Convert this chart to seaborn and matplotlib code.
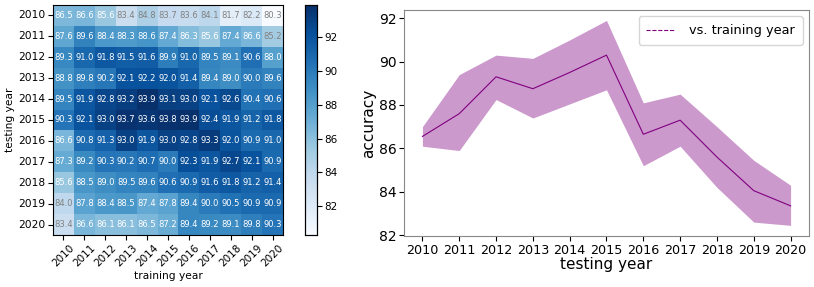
import numpy as np
import pandas as pd
import matplotlib
matplotlib.use("Agg")
import matplotlib.pyplot as plt
import seaborn as sns

years = [2010, 2011, 2012, 2013, 2014, 2015, 2016, 2017, 2018, 2019, 2020]

# rows: testing year, columns: training year
acc_2010 = [86.5, 86.6, 85.6, 83.4, 84.8, 83.7, 83.6, 84.1, 81.7, 82.2, 80.3]
acc_2011 = [87.6, 89.6, 88.4, 88.3, 88.6, 87.4, 86.3, 85.6, 87.4, 86.6, 85.2]
acc_2012 = [89.3, 91.0, 91.8, 91.5, 91.6, 89.9, 91.0, 89.5, 89.1, 90.6, 88.0]
acc_2013 = [88.8, 89.8, 90.2, 92.1, 92.2, 92.0, 91.4, 89.4, 89.0, 90.0, 89.6]
acc_2014 = [89.5, 91.9, 92.8, 93.2, 93.9, 93.1, 93.0, 92.1, 92.6, 90.4, 90.6]
acc_2015 = [90.3, 92.1, 93.0, 93.7, 93.6, 93.8, 93.9, 92.4, 91.9, 91.2, 91.8]
acc_2016 = [86.6, 90.8, 91.3, 93.0, 91.9, 93.0, 92.8, 93.3, 92.0, 90.9, 91.0]
acc_2017 = [87.3, 89.2, 90.3, 90.2, 90.7, 90.0, 92.3, 91.9, 92.7, 92.1, 90.9]
acc_2018 = [85.6, 88.5, 89.0, 89.5, 89.6, 90.6, 90.9, 91.6, 91.8, 91.2, 91.4]
acc_2019 = [84.0, 87.8, 88.4, 88.5, 87.4, 87.8, 89.4, 90.0, 90.5, 90.9, 90.9]
acc_2020 = [83.4, 86.6, 86.1, 86.1, 86.5, 87.2, 89.4, 89.2, 89.1, 89.8, 90.3]

# line plot: accuracy vs testing year with band
line_mean = [86.55, 87.6, 89.3, 88.75, 89.5, 90.3, 86.65, 87.3, 85.6, 84.05, 83.35]
band_low = [86.1, 85.9, 88.25, 87.4, 88.05, 88.7, 85.2, 86.1, 84.2, 82.6, 82.45]
band_high = [87.0, 89.4, 90.3, 90.15, 91.0, 91.9, 88.1, 88.5, 87.0, 85.45, 84.3]

matrix = pd.DataFrame(
    [acc_2010, acc_2011, acc_2012, acc_2013, acc_2014, acc_2015,
     acc_2016, acc_2017, acc_2018, acc_2019, acc_2020],
    index=years, columns=years)

W, H = 814, 287
fig = plt.figure(figsize=(W / 100, H / 100), dpi=100)


def box(x0, y0, x1, y1):
    return [x0 / W, 1 - y1 / H, (x1 - x0) / W, (y1 - y0) / H]


ax1 = fig.add_axes(box(53, 5, 283, 235))
cax = fig.add_axes(box(305, 5, 317, 235))
ax2 = fig.add_axes(box(404, 10, 809, 236))

sns.heatmap(matrix, ax=ax1, cbar_ax=cax, cmap="Blues", annot=True, fmt=".1f",
            annot_kws={"fontsize": 6.0})
for t in ax1.texts:
    v = float(t.get_text())
    t.set_color("0.5" if v < 85.4 else "white")
ax1.set_xlabel("training year", fontsize=7.7, labelpad=2)
ax1.set_ylabel("testing year", fontsize=7.7, labelpad=2)
ax1.tick_params(axis="x", labelsize=7.5, rotation=45, pad=2)
ax1.tick_params(axis="y", labelsize=7.7, rotation=0, pad=2)
for lab in ax1.get_xticklabels():
    lab.set_ha("center")
cax.tick_params(labelsize=7.5, pad=2)
for s in ax1.spines.values():
    s.set_visible(True)
    s.set_linewidth(0.8)
for s in cax.spines.values():
    s.set_visible(True)
    s.set_linewidth(0.8)

x = np.arange(len(years))
ax2.plot(x, line_mean, color="purple", lw=0.8)
ax2.fill_between(x, band_low, band_high, color="purple", alpha=0.4, lw=0)
ax2.plot([], [], color="purple", lw=0.8, ls="--", label="vs. training year")
ax2.set_xticks(x)
ax2.set_xticklabels([str(y) for y in years])
ax2.set_yticks([82, 84, 86, 88, 90, 92])
ax2.set_ylim(81.96, 92.38)
ax2.set_xlim(-0.5, 10.5)
ax2.tick_params(axis="x", labelsize=9.2, pad=2)
ax2.tick_params(axis="y", labelsize=10, pad=2)
ax2.set_xlabel("testing year", fontsize=11, labelpad=0)
ax2.set_ylabel("accuracy", fontsize=11, labelpad=2)
ax2.legend(fontsize=9.3, loc="upper right", handlelength=2.2,
           handletextpad=1.1, borderpad=0.6, borderaxespad=0.5)
for s in ax2.spines.values():
    s.set_color("#888888")

fig.savefig("out.png", dpi=100)
